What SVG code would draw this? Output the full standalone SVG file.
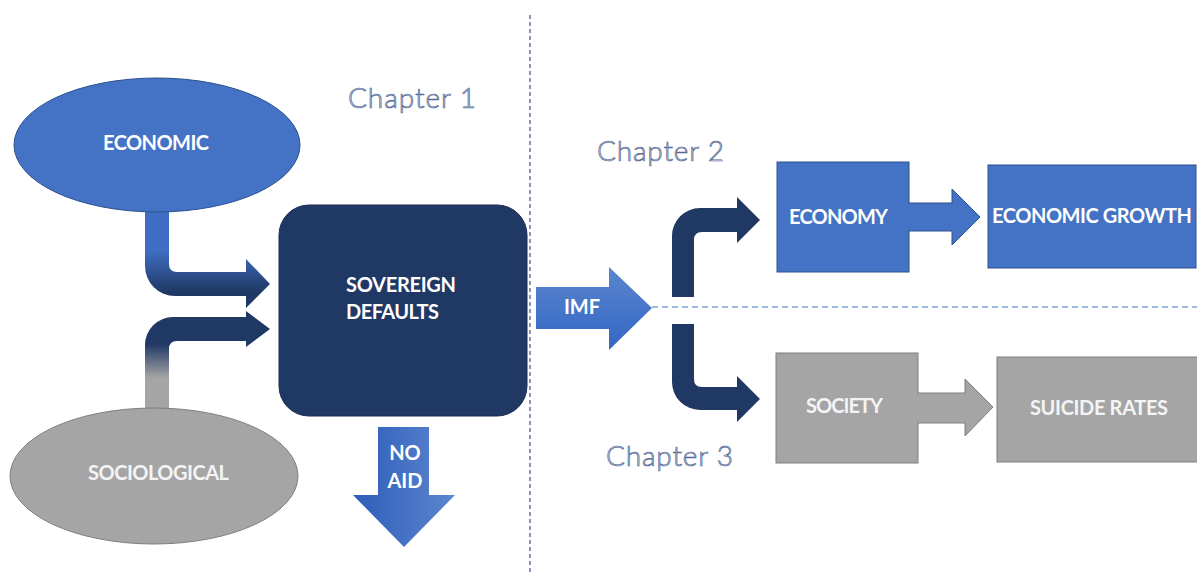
<svg xmlns="http://www.w3.org/2000/svg" width="1197" height="575" viewBox="0 0 1197 575">
  <style>
    .lbl { font-family: Lato, "Liberation Sans", sans-serif; font-weight: 700; font-size: 20px; fill: #ffffff; }
    .lbl-g { fill: #f4f4f4; }
    .chap { font-family: Lato, "Liberation Sans", sans-serif; font-weight: 300; font-size: 28px; fill: #c9d2e2; stroke: #566a94; stroke-width: 0.7; }
    .blue { fill: #4472c4; stroke: #2f528f; stroke-width: 1; }
    .grey { fill: #a5a5a5; stroke: #7f7f7f; stroke-width: 1; }
    .navy { fill: #203864; }
    .sep-v { stroke: #3b5488; stroke-width: 1.2; stroke-dasharray: 4 3; fill: none; }
    .sep-h { stroke: #4472c4; stroke-width: 1.2; stroke-dasharray: 6 4; fill: none; }
  </style>
  <defs>
    <linearGradient id="gEcon" gradientUnits="userSpaceOnUse" x1="0" y1="250" x2="0" y2="292">
      <stop offset="0" stop-color="#3f6fc5"/>
      <stop offset="1" stop-color="#203864"/>
    </linearGradient>
    <linearGradient id="gSoc" gradientUnits="userSpaceOnUse" x1="0" y1="378" x2="0" y2="344">
      <stop offset="0" stop-color="#a5a5a5"/>
      <stop offset="1" stop-color="#203864"/>
    </linearGradient>
    <linearGradient id="gNoAid" x1="0" y1="0" x2="1" y2="0">
      <stop offset="0" stop-color="#2e5db8"/>
      <stop offset="1" stop-color="#5b86cf"/>
    </linearGradient>
    <linearGradient id="gImf" x1="0" y1="0" x2="0" y2="1">
      <stop offset="0" stop-color="#5a86cd"/>
      <stop offset="1" stop-color="#3366c4"/>
    </linearGradient>
  </defs>

  <!-- section separators -->
  <g id="separators">
    <line class="sep-v" x1="530" y1="15" x2="530" y2="575"/>
    <line class="sep-h" x1="652" y1="307" x2="1197" y2="307"/>
  </g>

  <!-- chapter captions -->
  <g id="captions">
    <text class="chap" x="348" y="108" textLength="128">Chapter 1</text>
    <text class="chap" x="597" y="161" textLength="127">Chapter 2</text>
    <text class="chap" x="606" y="466" textLength="127">Chapter 3</text>
  </g>

  <!-- connectors -->
  <g id="connectors">
    <path id="econ-to-defaults" fill="url(#gEcon)" d="M145,200 L169,200 L169,264 Q169,272 177,272 L246,272 L246,259 L270,284 L246,308 L246,296 L175,296 A30,30 0 0 1 145,266 Z"/>
    <path id="soc-to-defaults" fill="url(#gSoc)" d="M145,420 L145,345 A28,28 0 0 1 173,317 L246,317 L246,311 L270,329 L246,347 L246,341 L177,341 Q169,341 169,349 L169,420 Z"/>
    <path id="no-aid" fill="url(#gNoAid)" d="M378,427 L429,427 L429,495 L455,495 L404,547 L353,495 L378,495 Z"/>
    <path id="imf" fill="url(#gImf)" d="M536,287 L609,287 L609,267 L652,308 L609,350 L609,329 L536,329 Z"/>
    <path id="imf-to-economy" class="navy" d="M672,297 L672,236 A28,28 0 0 1 700,208 L737,208 L737,197 L760,220 L737,243 L737,232 L702,232 Q694,232 694,240 L694,297 Z"/>
    <path id="imf-to-society" class="navy" d="M672,324 L694,324 L694,379 Q694,387 702,387 L737,387 L737,376 L760,399 L737,422 L737,410 L700,410 A28,28 0 0 1 672,382 Z"/>
  </g>

  <!-- nodes -->
  <g id="economic">
    <ellipse class="blue" cx="157" cy="145" rx="143" ry="67"/>
    <text class="lbl" x="103" y="150" textLength="106">ECONOMIC</text>
  </g>
  <g id="sociological">
    <ellipse class="grey" cx="154" cy="476" rx="144" ry="68"/>
    <text class="lbl lbl-g" x="88" y="480" textLength="141">SOCIOLOGICAL</text>
  </g>
  <g id="sovereign-defaults">
    <rect x="279" y="205" width="248" height="211" rx="30" fill="#203864" stroke="#1a2d52" stroke-width="1"/>
    <text class="lbl" x="346" y="292" textLength="110">SOVEREIGN</text>
    <text class="lbl" x="346" y="319" textLength="93">DEFAULTS</text>
  </g>
  <g id="no-aid-label">
    <text class="lbl" x="405" y="460" text-anchor="middle">NO</text>
    <text class="lbl" x="405" y="488" text-anchor="middle">AID</text>
  </g>
  <g id="imf-label">
    <text class="lbl" x="582" y="314" text-anchor="middle" font-size="19">IMF</text>
  </g>
  <g id="economy">
    <rect class="blue" x="777" y="162" width="132" height="110"/>
    <path class="blue" d="M909,203 L952,203 L952,189 L980,217 L952,245 L952,231 L909,231"/>
    <rect x="906" y="204" width="6" height="26" fill="#4472c4"/>
    <text class="lbl" x="789" y="224" textLength="99">ECONOMY</text>
  </g>
  <g id="economic-growth">
    <rect class="blue" x="988" y="165" width="208" height="103"/>
    <text class="lbl" x="992" y="223" textLength="200">ECONOMIC GROWTH</text>
  </g>
  <g id="society">
    <rect class="grey" x="776" y="353" width="142" height="110"/>
    <path class="grey" d="M918,393 L965,393 L965,379 L993,407 L965,436 L965,423 L918,423"/>
    <rect x="915" y="394" width="6" height="28" fill="#a5a5a5"/>
    <text class="lbl lbl-g" x="806" y="413" textLength="77">SOCIETY</text>
  </g>
  <g id="suicide-rates">
    <rect class="grey" x="997" y="357" width="205" height="105"/>
    <text class="lbl lbl-g" x="1030" y="415" textLength="138">SUICIDE RATES</text>
  </g>
</svg>
